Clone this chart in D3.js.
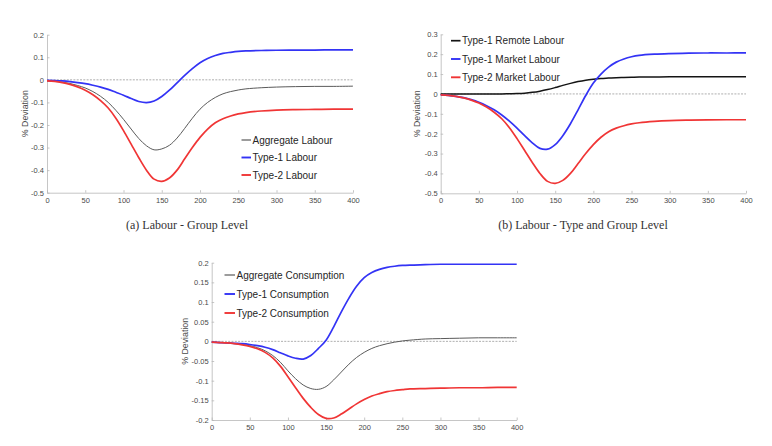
<!DOCTYPE html>
<html>
<head>
<meta charset="utf-8">
<script src="https://cdn.jsdelivr.net/npm/d3@7"></script>
<style>
  html, body { margin: 0; padding: 0; background: #fff; }
  svg { display: block; }
</style>
</head>
<body>
<svg id="chart" width="772" height="446"></svg>
<script>
// ---------- data ----------
const periods = [0,10,20,30,40,50,60,70,80,90,100,110,120,130,140,150,160,170,180,190,200,210,220,230,240,250,260,280,300,325,350,375,400];

// Panel (a) Labour - Group Level
const aggLabour   = [-0.005,-0.007,-0.01,-0.016,-0.025,-0.036,-0.052,-0.073,-0.1,-0.135,-0.175,-0.218,-0.26,-0.292,-0.31,-0.306,-0.29,-0.258,-0.215,-0.17,-0.13,-0.1,-0.078,-0.062,-0.052,-0.045,-0.04,-0.035,-0.032,-0.03,-0.029,-0.029,-0.028];
const type1Labour = [-0.002,-0.003,-0.005,-0.008,-0.012,-0.017,-0.024,-0.032,-0.042,-0.055,-0.068,-0.083,-0.096,-0.101,-0.094,-0.074,-0.046,-0.013,0.02,0.05,0.076,0.095,0.108,0.117,0.122,0.126,0.128,0.13,0.131,0.132,0.132,0.133,0.133];
const type2Labour = [-0.005,-0.007,-0.012,-0.02,-0.031,-0.046,-0.066,-0.092,-0.125,-0.17,-0.225,-0.285,-0.345,-0.4,-0.44,-0.45,-0.435,-0.4,-0.35,-0.3,-0.255,-0.218,-0.19,-0.172,-0.16,-0.151,-0.145,-0.138,-0.134,-0.132,-0.131,-0.13,-0.13];

// Panel (b) Labour - Type and Group Level
const type1Remote = [0,0,0,0,0,0,0,0,0,0.001,0.002,0.004,0.008,0.014,0.022,0.032,0.043,0.053,0.062,0.069,0.074,0.078,0.08,0.082,0.083,0.084,0.085,0.085,0.086,0.086,0.086,0.086,0.086];
const type1Market = [-0.005,-0.007,-0.012,-0.019,-0.029,-0.042,-0.059,-0.08,-0.106,-0.137,-0.172,-0.21,-0.246,-0.274,-0.278,-0.255,-0.21,-0.15,-0.08,-0.008,0.055,0.1,0.135,0.16,0.176,0.187,0.194,0.2,0.203,0.205,0.206,0.206,0.207];
const type2Market = [-0.005,-0.007,-0.012,-0.02,-0.031,-0.046,-0.066,-0.092,-0.125,-0.17,-0.225,-0.285,-0.345,-0.4,-0.44,-0.45,-0.435,-0.4,-0.35,-0.3,-0.255,-0.218,-0.19,-0.172,-0.16,-0.151,-0.145,-0.138,-0.134,-0.132,-0.131,-0.13,-0.13];

// Panel (c) Consumption
const aggCons   = [-0.002,-0.003,-0.004,-0.006,-0.008,-0.011,-0.016,-0.024,-0.036,-0.053,-0.075,-0.095,-0.111,-0.12,-0.122,-0.115,-0.098,-0.078,-0.058,-0.041,-0.028,-0.018,-0.011,-0.006,-0.002,0.001,0.003,0.006,0.007,0.008,0.009,0.009,0.009];
const type1Cons = [-0.002,-0.003,-0.004,-0.005,-0.006,-0.008,-0.011,-0.015,-0.021,-0.029,-0.037,-0.043,-0.045,-0.036,-0.018,0.003,0.037,0.075,0.11,0.14,0.162,0.175,0.183,0.188,0.191,0.193,0.194,0.195,0.196,0.196,0.196,0.196,0.196];
const type2Cons = [-0.002,-0.003,-0.004,-0.006,-0.009,-0.013,-0.019,-0.028,-0.042,-0.063,-0.09,-0.118,-0.145,-0.168,-0.186,-0.196,-0.195,-0.185,-0.172,-0.159,-0.148,-0.139,-0.133,-0.128,-0.125,-0.123,-0.121,-0.12,-0.119,-0.118,-0.118,-0.117,-0.117];

const xTicks = [0,50,100,150,200,250,300,350,400];
const yTicksA = [-0.5,-0.4,-0.3,-0.2,-0.1,0,0.1,0.2];
const yTicksB = [-0.5,-0.4,-0.3,-0.2,-0.1,0,0.1,0.2,0.3];
const yTicksC = [-0.2,-0.15,-0.1,-0.05,0,0.05,0.1,0.15,0.2];

const yLabel = "% Deviation";
const captions = ["(a) Labour - Group Level", "(b) Labour - Type and Group Level"];

// ---------- styles ----------
const GRAY = "#5a5a5a", BLUE = "#3333f5", RED = "#f03535", BLACK = "#141414";

const panels = [
  { x0: 47, x1: 353, yTop: 34.7, yBot: 192.7, yDomain: [-0.5, 0.2], yTicks: yTicksA, labelX: 25,
    series: [
      { name: "Aggregate Labour", values: aggLabour, color: GRAY, w: 1 },
      { name: "Type-1 Labour", values: type1Labour, color: BLUE, w: 1.7 },
      { name: "Type-2 Labour", values: type2Labour, color: RED, w: 1.7 }
    ],
    legend: { x: 241.5, y: 140, dy: 17.5, len: 9.5 },
    caption: { text: captions[0], x: 187, y: 229 } },
  { x0: 440.7, x1: 746, yTop: 34.3, yBot: 193.3, yDomain: [-0.5, 0.3], yTicks: yTicksB, labelX: 417,
    series: [
      { name: "Type-1 Remote Labour", values: type1Remote, color: BLACK, w: 1.5 },
      { name: "Type-1 Market Labour", values: type1Market, color: BLUE, w: 1.7 },
      { name: "Type-2 Market Labour", values: type2Market, color: RED, w: 1.7 }
    ],
    legend: { x: 451, y: 40.7, dy: 18.3, len: 9.5 },
    caption: { text: captions[1], x: 583, y: 229 } },
  { x0: 211.7, x1: 516.7, yTop: 262.7, yBot: 420, yDomain: [-0.2, 0.2], yTicks: yTicksC, labelX: 185,
    series: [
      { name: "Aggregate Consumption", values: aggCons, color: GRAY, w: 1 },
      { name: "Type-1 Consumption", values: type1Cons, color: BLUE, w: 1.7 },
      { name: "Type-2 Consumption", values: type2Cons, color: RED, w: 1.7 }
    ],
    legend: { x: 224.5, y: 275, dy: 19, len: 10.5 },
    caption: null }
];

const svg = d3.select("#chart");
svg.append("rect").attr("width", 772).attr("height", 446).attr("fill", "#fff");

const fmt = v => String(+v.toFixed(2));

panels.forEach(p => {
  const x = d3.scaleLinear().domain([0, 400]).range([p.x0, p.x1]);
  const y = d3.scaleLinear().domain(p.yDomain).range([p.yBot, p.yTop]);
  const g = svg.append("g");

  // axes
  const xAxis = d3.axisBottom(x).tickValues(xTicks).tickFormat(d3.format("d"))
    .tickSizeInner(-2.5).tickSizeOuter(0).tickPadding(4.5);
  const yAxis = d3.axisLeft(y).tickValues(p.yTicks).tickFormat(fmt)
    .tickSizeInner(-2.5).tickSizeOuter(0).tickPadding(3);

  const gx = g.append("g").attr("transform", `translate(0,${p.yBot})`).call(xAxis);
  const gy = g.append("g").attr("transform", `translate(${p.x0},0)`).call(yAxis);
  [gx, gy].forEach(a => {
    a.select(".domain").attr("stroke", "#b8b8b8").attr("stroke-width", 0.8);
    a.selectAll(".tick line").attr("stroke", "#b8b8b8").attr("stroke-width", 0.8);
    a.selectAll(".tick text").attr("fill", "#4a4a4a")
      .style("font-family", "'Liberation Sans', Arial, sans-serif").style("font-size", "7.5px");
  });

  // zero dashed line
  g.append("line")
    .attr("x1", x(0)).attr("x2", x(400)).attr("y1", y(0)).attr("y2", y(0))
    .attr("stroke", "#777").attr("stroke-width", 0.6).attr("stroke-dasharray", "2,1.3");

  // series
  const line = d3.line().x((d, i) => x(periods[i])).y(d => y(d)).curve(d3.curveCatmullRom.alpha(0.5));
  p.series.forEach(s => {
    g.append("path").datum(s.values)
      .attr("fill", "none").attr("stroke", s.color).attr("stroke-width", s.w)
      .attr("stroke-linejoin", "round").attr("d", line);
  });

  // y label
  g.append("text")
    .attr("transform", `translate(${p.labelX},${(p.yTop + p.yBot) / 2}) rotate(-90)`)
    .attr("text-anchor", "middle").attr("dy", "0.35em")
    .attr("fill", "#4a4a4a")
    .style("font-family", "'Liberation Sans', Arial, sans-serif").style("font-size", "8.8px")
    .text(yLabel);

  // legend
  p.series.forEach((s, i) => {
    const ly = p.legend.y + i * p.legend.dy;
    g.append("line").attr("x1", p.legend.x).attr("x2", p.legend.x + p.legend.len)
      .attr("y1", ly).attr("y2", ly).attr("stroke", s.color).attr("stroke-width", s.w + 0.2);
    g.append("text").attr("x", p.legend.x + p.legend.len + 1.5).attr("y", ly).attr("dy", "0.35em")
      .attr("fill", "#262626")
      .style("font-family", "'Liberation Sans', Arial, sans-serif").style("font-size", "10px")
      .text(s.name);
  });

  // caption
  if (p.caption) {
    svg.append("text").attr("x", p.caption.x).attr("y", p.caption.y)
      .attr("text-anchor", "middle").attr("fill", "#333")
      .style("font-family", "'Liberation Serif', 'Times New Roman', serif").style("font-size", "12px")
      .text(p.caption.text);
  }
});
</script>
</body>
</html>
